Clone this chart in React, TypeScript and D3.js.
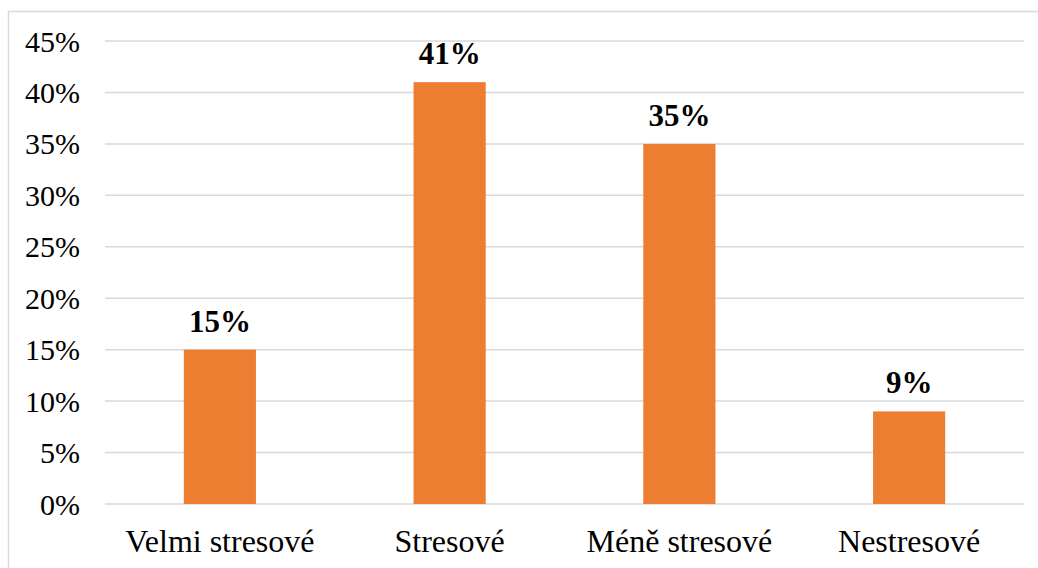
import React, { useEffect, useRef } from "react";
import * as d3 from "d3";

const categories = ["Velmi stresové", "Stresové", "Méně stresové", "Nestresové"];
const values = [15, 41, 35, 9];
const yTicks = [0, 5, 10, 15, 20, 25, 30, 35, 40, 45];

const W = 1038;
const H = 568;
const plot = { left: 105, right: 1024, top: 41, bottom: 504 };
const FONT = '"Liberation Serif", "Times New Roman", Tinos, serif';

export default function App() {
  const ref = useRef<SVGSVGElement | null>(null);

  useEffect(() => {
    const svg = d3.select(ref.current);
    svg.selectAll("*").remove();

    const x = d3
      .scaleBand<string>()
      .domain(categories)
      .range([plot.left, plot.right])
      .padding(0);
    const y = d3.scaleLinear().domain([0, 45]).range([plot.bottom, plot.top]);
    const barW = x.bandwidth() * 0.314;
    const cx = (c: string) => (x(c) ?? 0) + x.bandwidth() / 2;

    // outer frame (top and left edges visible)
    svg
      .append("rect")
      .attr("x", 8.5)
      .attr("y", 11.5)
      .attr("width", W + 10)
      .attr("height", H + 10)
      .attr("fill", "#fff")
      .attr("stroke", "#d9d9d9")
      .attr("stroke-width", 1.5);

    // gridlines
    svg
      .selectAll("line.grid")
      .data(yTicks)
      .join("line")
      .attr("class", "grid")
      .attr("x1", plot.left)
      .attr("x2", plot.right)
      .attr("y1", (d) => y(d))
      .attr("y2", (d) => y(d))
      .attr("stroke", "#d9d9d9")
      .attr("stroke-width", 1.5);

    // y tick labels
    svg
      .selectAll("text.tick")
      .data(yTicks)
      .join("text")
      .attr("class", "tick")
      .attr("x", 80)
      .attr("y", (d) => y(d))
      .attr("dy", "0.35em")
      .attr("text-anchor", "end")
      .style("font-family", FONT)
      .style("font-size", "30px")
      .attr("fill", "#000")
      .text((d) => `${d}%`);

    // bars
    svg
      .selectAll("rect.bar")
      .data(categories)
      .join("rect")
      .attr("class", "bar")
      .attr("x", (c) => cx(c) - barW / 2)
      .attr("y", (_, i) => y(values[i]))
      .attr("width", barW)
      .attr("height", (_, i) => y(0) - y(values[i]))
      .attr("fill", "#ED7D31");

    // value labels
    svg
      .selectAll("text.val")
      .data(categories)
      .join("text")
      .attr("class", "val")
      .attr("x", (c) => cx(c))
      .attr("y", (_, i) => y(values[i]) - 18)
      .attr("text-anchor", "middle")
      .style("font-family", FONT)
      .style("font-size", "31px")
      .style("font-weight", "bold")
      .attr("fill", "#000")
      .text((_, i) => `${values[i]}%`);

    // category labels
    svg
      .selectAll("text.cat")
      .data(categories)
      .join("text")
      .attr("class", "cat")
      .attr("x", (c) => cx(c))
      .attr("y", 552)
      .attr("text-anchor", "middle")
      .style("font-family", FONT)
      .style("font-size", "32px")
      .attr("fill", "#000")
      .text((c) => c);
  }, []);

  return (
    <svg
      ref={ref}
      width={W}
      height={H}
      style={{ position: "absolute", left: 0, top: 0, fontFamily: FONT }}
    />
  );
}
